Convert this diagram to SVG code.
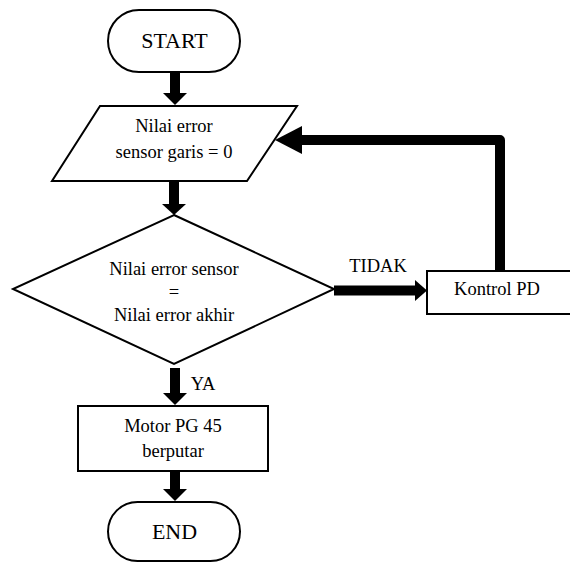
<svg xmlns="http://www.w3.org/2000/svg" width="570" height="563" viewBox="0 0 570 563">
<style>
.shape{fill:#fff;stroke:#000;stroke-width:2}
text{font-family:'Liberation Serif','Times New Roman',Times,serif;fill:#000;text-anchor:middle}
.t{font-size:18.5px}
.tl{font-size:22px}
.shaft{fill:none;stroke:#000;stroke-width:10}
.head{fill:#000;stroke:none}
</style>
<rect width="570" height="563" fill="#fff"/>
<g id="connectors">
<path class="shaft" d="M175,72 V94"/>
<polygon class="head" points="163,93 187,93 175,105"/>
<path class="shaft" d="M174,181 V205"/>
<polygon class="head" points="162,204 186,204 174,215"/>
<path class="shaft" d="M334,290.5 H416"/>
<polygon class="head" points="415,280 415,301 427,290.5"/>
<path class="shaft" d="M500,271 V140 H301" stroke-linejoin="round"/>
<polygon class="head" points="302,126 302,154 275,140"/>
<path class="shaft" d="M175,368 V394"/>
<polygon class="head" points="163,393 187,393 175,405"/>
<path class="shaft" d="M175,471 V490"/>
<polygon class="head" points="163,489 187,489 175,501"/>
<text class="t" x="378" y="272">TIDAK</text>
<text class="t" x="203" y="390">YA</text>
</g>
<g id="start">
<rect class="shape" x="108" y="10" width="132" height="62" rx="31"/>
<text class="tl" x="174.5" y="48">START</text>
</g>
<g id="input">
<polygon class="shape" points="100,106 297,106 247,181 52,181"/>
<text class="t" x="174" y="132">Nilai error</text>
<text class="t" x="174" y="158">sensor garis = 0</text>
</g>
<g id="decision">
<polygon class="shape" points="174,215 334,289 174,364 13,289"/>
<text class="t" x="174" y="275">Nilai error sensor</text>
<text class="t" x="174" y="298">=</text>
<text class="t" x="174" y="321">Nilai error akhir</text>
</g>
<g id="kontrol">
<rect class="shape" x="427" y="271" width="150" height="43"/>
<text class="t" x="497" y="295">Kontrol PD</text>
</g>
<g id="motor">
<rect class="shape" x="78" y="406" width="190" height="65"/>
<text class="t" x="173" y="432">Motor PG 45</text>
<text class="t" x="173" y="457">berputar</text>
</g>
<g id="end">
<rect class="shape" x="108" y="502" width="132" height="59" rx="29.5"/>
<text class="tl" x="174.5" y="539">END</text>
</g>
</svg>
